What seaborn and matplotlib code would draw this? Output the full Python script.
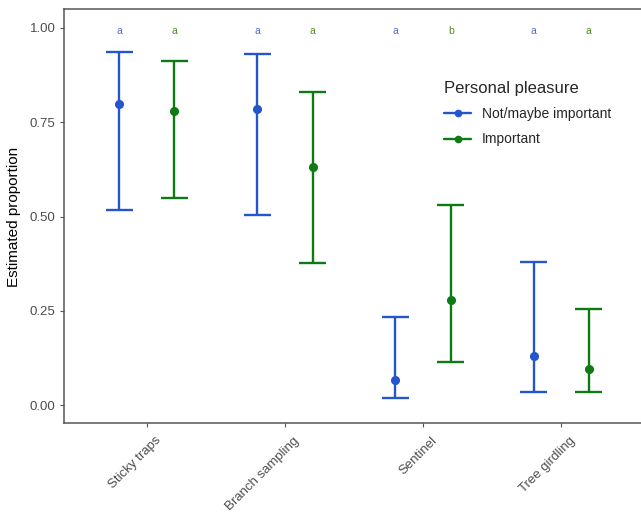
import matplotlib
matplotlib.use("Agg")
import matplotlib.pyplot as plt
from matplotlib.lines import Line2D
from matplotlib.transforms import ScaledTranslation
import numpy as np
import pandas as pd
import seaborn as sns

# Estimated proportions with confidence limits, per monitoring method and group
methods = ["Sticky traps", "Branch sampling", "Sentinel", "Tree girdling"]
groups = ["Not/maybe important", "Important"]

est_not = [0.798, 0.786, 0.066, 0.131]
low_not = [0.518, 0.503, 0.018, 0.036]
high_not = [0.936, 0.931, 0.235, 0.380]

est_imp = [0.781, 0.632, 0.278, 0.096]
low_imp = [0.548, 0.377, 0.114, 0.034]
high_imp = [0.912, 0.831, 0.530, 0.254]

# Compact letter display above each group
letters_not = ["a", "a", "a", "a"]
letters_imp = ["a", "a", "b", "a"]

colors = {"Not/maybe important": "#2356CC", "Important": "#0E7A14"}
letter_colors = {"Not/maybe important": "#4F6FD6", "Important": "#4E8F1E"}

df = pd.DataFrame({
    "method": methods * 2,
    "group": [groups[0]] * 4 + [groups[1]] * 4,
    "est": est_not + est_imp,
    "low": low_not + low_imp,
    "high": high_not + high_imp,
    "letter": letters_not + letters_imp,
})

sns.set_theme(style="white")
plt.rcParams["font.family"] = ["Liberation Sans", "DejaVu Sans"]

fig = plt.figure(figsize=(6.41, 5.13), dpi=100)
ax = fig.add_axes([0.0998, 0.1745, 0.9049, 0.8070])

dodge = 0.4
sns.pointplot(
    data=df, x="method", y="est", hue="group", order=methods, hue_order=groups,
    dodge=dodge, linestyle="none", errorbar=None, palette=colors,
    markers="o", markersize=4.5, ax=ax, legend=False,
)

offsets = {groups[0]: -dodge / 2, groups[1]: dodge / 2}
cap = 0.097
for g in groups:
    sub = df[df["group"] == g].set_index("method").loc[methods]
    xs = np.arange(len(methods)) + offsets[g]
    c = colors[g]
    ax.vlines(xs, sub["low"], sub["high"], color=c, lw=1.7, zorder=2)
    ax.hlines(sub["low"], xs - cap, xs + cap, color=c, lw=1.7, zorder=2)
    ax.hlines(sub["high"], xs - cap, xs + cap, color=c, lw=1.7, zorder=2)
    for x, lt in zip(xs, sub["letter"]):
        ax.text(x, 0.993, lt, ha="center", va="center", fontsize=7.5,
                color=letter_colors[g])

ax.set_xlim(-0.6, 3.6)
ax.set_ylim(-0.0486, 1.049)
ax.set_yticks([0, 0.25, 0.5, 0.75, 1.0])
ax.set_yticklabels(["0.00", "0.25", "0.50", "0.75", "1.00"])
ax.set_xlabel("")
ax.set_ylabel("Estimated proportion", fontsize=11, color="black", labelpad=6)

ax.tick_params(axis="both", which="both", length=3, width=0.8, colors="#555555",
               labelcolor="#4D4D4D", labelsize=9.5, left=True, bottom=True)
ax.tick_params(axis="y", pad=3)
shift = ScaledTranslation(8 / 100, -2 / 100, fig.dpi_scale_trans)
for lab in ax.get_xticklabels():
    lab.set_rotation(45)
    lab.set_ha("right")
    lab.set_rotation_mode("anchor")
    lab.set_transform(lab.get_transform() + shift)

for side in ["left", "bottom", "top"]:
    ax.spines[side].set_color("#555555")
    ax.spines[side].set_linewidth(1.1)
ax.spines["right"].set_visible(False)

handles = [Line2D([0], [0], color=colors[g], lw=1.7, marker="o", markersize=4.5)
           for g in groups]
leg = ax.legend(handles, groups, title="Personal pleasure", frameon=False,
                loc="upper left", bbox_to_anchor=(0.634, 0.857),
                fontsize=10, title_fontsize=12, handlelength=1.95,
                handletextpad=0.75, labelspacing=0.8, alignment="left")

fig.savefig("out.png", dpi=100)
